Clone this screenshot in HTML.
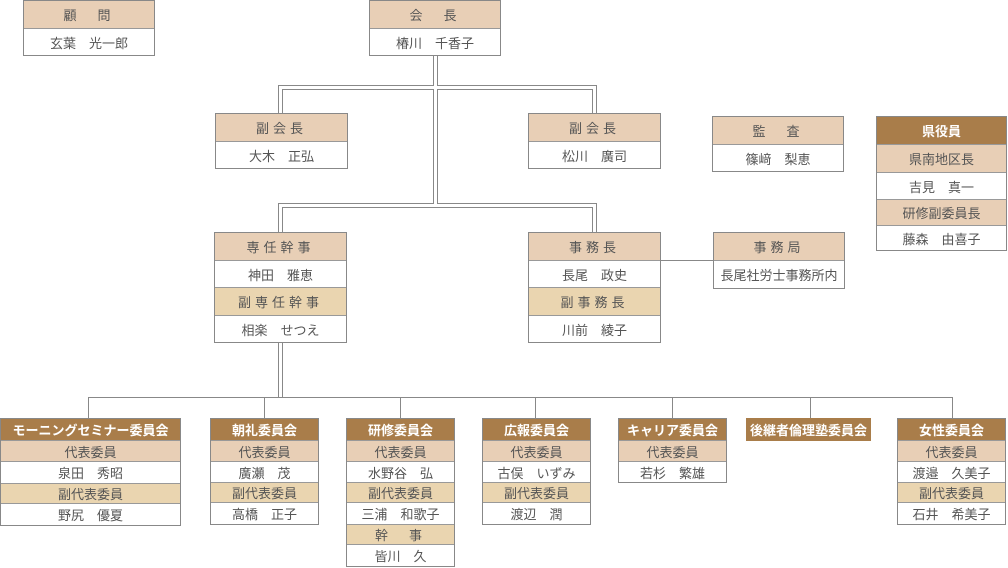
<!DOCTYPE html>
<html><head><meta charset="utf-8"><style>
body{margin:0;width:1008px;height:568px;background:#fff;position:relative;overflow:hidden;font-family:"Liberation Sans","Noto Sans CJK JP",sans-serif;color:#555;font-size:13px}
.b{position:absolute;border:1px solid #888;box-sizing:border-box;background:#fff}
.r{box-sizing:border-box;text-align:center;border-bottom:1px solid #999;display:flex;align-items:center;justify-content:center;white-space:nowrap}
.r:last-child{border-bottom:none}
.p{background:#e8cfb6}
.y{background:#ead5b0}
.d{background:#a97d4a;color:#fff;font-weight:bold}
.ls{letter-spacing:4px}
svg{position:absolute;left:0;top:0}
</style></head><body>
<svg width="1008" height="568">
<g fill="none" stroke="#888" stroke-width="5">
<path d="M435.5 55V205.5M280.5 113V87.5H594.5V113M280.5 232V205.5H594.5V232M280.5 342V397"/>
</g>
<g fill="none" stroke="#fff" stroke-width="3">
<path d="M435.5 54V205.5M280.5 114V87.5H594.5V114M280.5 233V205.5H594.5V233M280.5 341V397"/>
</g>
<g fill="none" stroke="#888" stroke-width="1">
<path d="M88.5 418V397.5H952.5V418M264.5 397V418M400.5 397V418M535.5 397V418M672.5 397V418M810.5 397V418M660 260.5H713"/>
</g>
</svg>

<div class="b" style="left:23px;top:0;width:132px;height:56px"><div class="r p ls" style="height:28px">顧　問</div><div class="r" style="height:26px">玄葉　光一郎</div></div>
<div class="b" style="left:369px;top:0;width:132px;height:56px"><div class="r p ls" style="height:28px">会　長</div><div class="r" style="height:26px">椿川　千香子</div></div>
<div class="b" style="left:215px;top:113px;width:133px;height:56px"><div class="r p ls" style="height:28px">副会長</div><div class="r" style="height:26px">大木　正弘</div></div>
<div class="b" style="left:528px;top:113px;width:133px;height:56px"><div class="r p ls" style="height:28px">副会長</div><div class="r" style="height:26px">松川　廣司</div></div>
<div class="b" style="left:712px;top:116px;width:132px;height:56px"><div class="r p ls" style="height:28px">監　査</div><div class="r" style="height:26px">篠﨑　梨恵</div></div>
<div class="b" style="left:876px;top:116px;width:131px;height:135px"><div class="r d" style="height:28px">県役員</div><div class="r p" style="height:28px">県南地区長</div><div class="r" style="height:27px">吉見　真一</div><div class="r p" style="height:26px">研修副委員長</div><div class="r" style="height:24px">藤森　由喜子</div></div>
<div class="b" style="left:214px;top:232px;width:133px;height:111px"><div class="r p ls" style="height:28px">専任幹事</div><div class="r" style="height:27px">神田　雅恵</div><div class="r y ls" style="height:28px">副専任幹事</div><div class="r" style="height:26px">相楽　せつえ</div></div>
<div class="b" style="left:528px;top:232px;width:133px;height:111px"><div class="r p ls" style="height:28px">事務長</div><div class="r" style="height:27px">長尾　政史</div><div class="r y ls" style="height:28px">副事務長</div><div class="r" style="height:26px">川前　綾子</div></div>
<div class="b" style="left:713px;top:232px;width:132px;height:57px"><div class="r p ls" style="height:28px">事務局</div><div class="r" style="height:27px">長尾社労士事務所内</div></div>

<div class="b" style="left:0;top:418px;width:181px;height:108px"><div class="r d" style="height:22px">モーニングセミナー委員会</div><div class="r p" style="height:21px">代表委員</div><div class="r" style="height:22px">泉田　秀昭</div><div class="r y" style="height:20px">副代表委員</div><div class="r" style="height:21px">野尻　優夏</div></div>
<div class="b" style="left:210px;top:418px;width:109px;height:107px"><div class="r d" style="height:22px">朝礼委員会</div><div class="r p" style="height:21px">代表委員</div><div class="r" style="height:21px">廣瀬　茂</div><div class="r y" style="height:20px">副代表委員</div><div class="r" style="height:21px">高橋　正子</div></div>
<div class="b" style="left:346px;top:418px;width:109px;height:149px"><div class="r d" style="height:22px">研修委員会</div><div class="r p" style="height:21px">代表委員</div><div class="r" style="height:21px">水野谷　弘</div><div class="r y" style="height:20px">副代表委員</div><div class="r" style="height:22px">三浦　和歌子</div><div class="r y ls" style="height:20px">幹　事</div><div class="r" style="height:21px">皆川　久</div></div>
<div class="b" style="left:482px;top:418px;width:109px;height:107px"><div class="r d" style="height:22px">広報委員会</div><div class="r p" style="height:21px">代表委員</div><div class="r" style="height:21px">古俣　いずみ</div><div class="r y" style="height:20px">副代表委員</div><div class="r" style="height:21px">渡辺　潤</div></div>
<div class="b" style="left:618px;top:418px;width:109px;height:65px"><div class="r d" style="height:22px">キャリア委員会</div><div class="r p" style="height:21px">代表委員</div><div class="r" style="height:20px">若杉　繁雄</div></div>
<div class="b" style="left:746px;top:418px;width:125px;height:23px;border:none"><div class="r d" style="height:23px">後継者倫理塾委員会</div></div>
<div class="b" style="left:897px;top:418px;width:109px;height:107px"><div class="r d" style="height:22px">女性委員会</div><div class="r p" style="height:21px">代表委員</div><div class="r" style="height:21px">渡邉　久美子</div><div class="r y" style="height:20px">副代表委員</div><div class="r" style="height:21px">石井　希美子</div></div>
</body></html>
